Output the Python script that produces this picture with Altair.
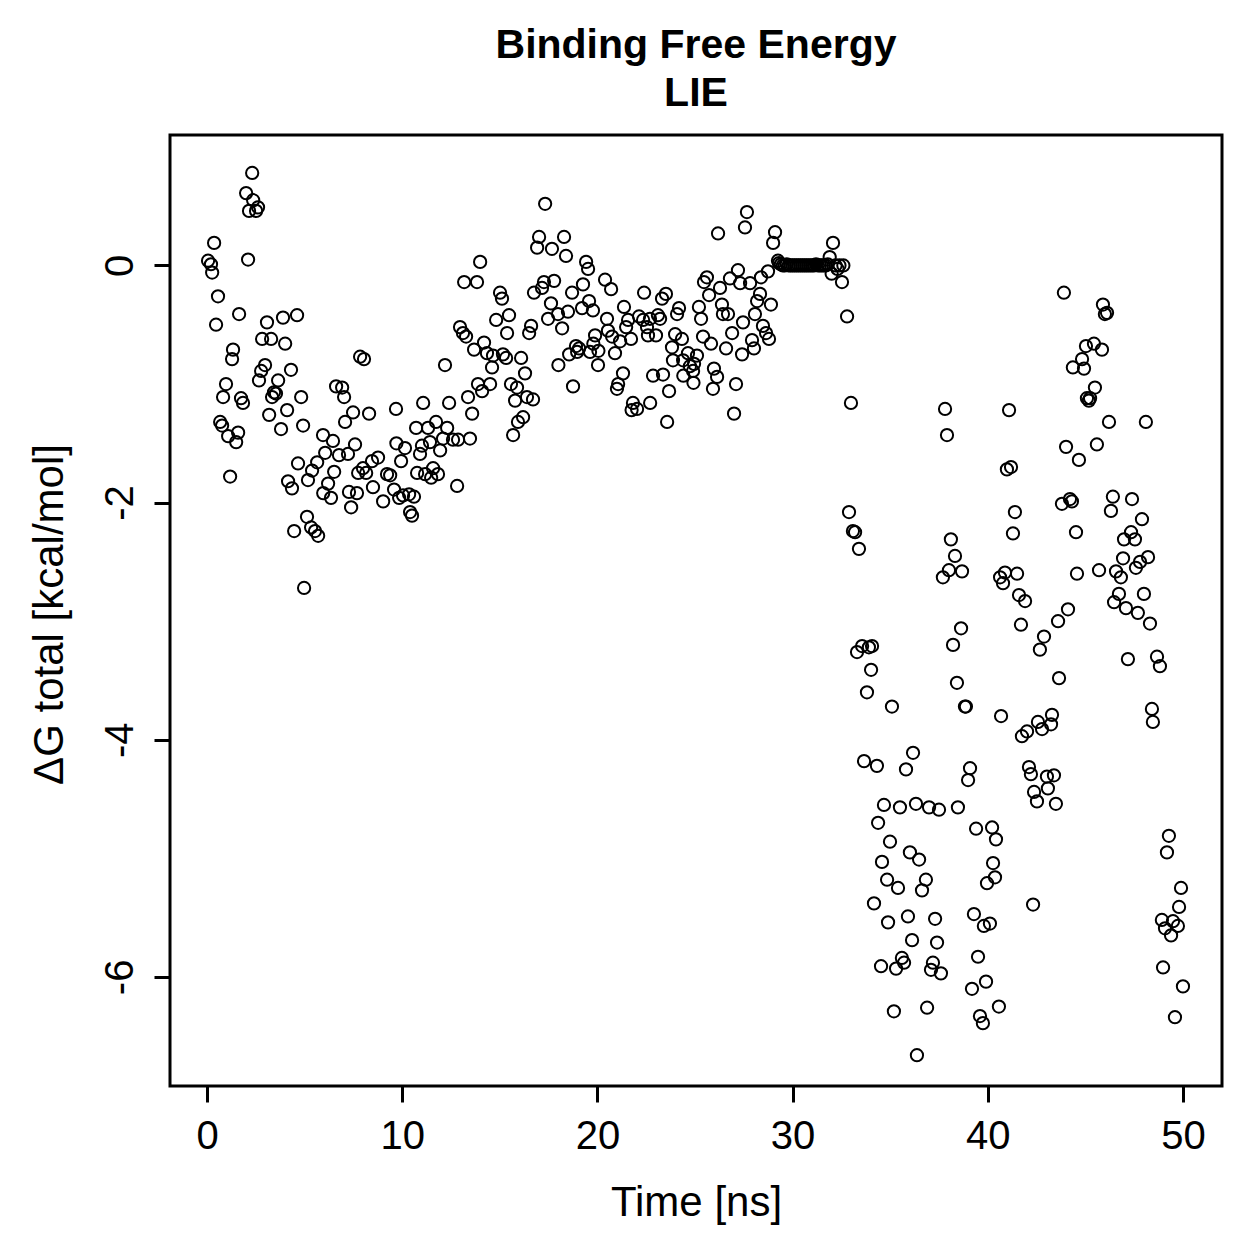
import altair as alt
import pandas as pd

# (time [ns], dG total [kcal/mol]), in segments
seg_0_10 = [
    (0.05, 0.04), (0.20, 0.01), (0.26, -0.06), (0.36, 0.19), (0.46, -0.50), (0.56, -0.26),
    (0.67, -1.32), (0.77, -1.35), (0.82, -1.11), (0.97, -1.00), (1.08, -1.44), (1.18, -1.78),
    (1.28, -0.79), (1.33, -0.71), (1.49, -1.49), (1.59, -1.41), (1.64, -0.41), (1.74, -1.12),
    (1.84, -1.16), (2.00, 0.61), (2.10, 0.05), (2.15, 0.46), (2.31, 0.78), (2.36, 0.55),
    (2.51, 0.46), (2.61, 0.49), (2.66, -0.97), (2.77, -0.89), (2.82, -0.62), (2.97, -0.84),
    (3.07, -0.48), (3.18, -1.26), (3.28, -0.62), (3.33, -1.11), (3.43, -1.07), (3.53, -1.08),
    (3.64, -0.97), (3.79, -1.38), (3.89, -0.44), (4.00, -0.66), (4.10, -1.22), (4.15, -1.82),
    (4.30, -0.88), (4.35, -1.88), (4.46, -2.24), (4.61, -0.42), (4.66, -1.67), (4.82, -1.11),
    (4.92, -1.35), (4.97, -2.72), (5.12, -2.12), (5.17, -1.81), (5.33, -2.21), (5.38, -1.73),
    (5.53, -2.24), (5.64, -1.66), (5.69, -2.28), (5.94, -1.43), (5.95, -1.92), (6.05, -1.58),
    (6.20, -1.84), (6.35, -1.96), (6.45, -1.48), (6.51, -1.74), (6.61, -1.02), (6.76, -1.60),
    (6.92, -1.03), (7.02, -1.11), (7.07, -1.32), (7.22, -1.59), (7.27, -1.91), (7.38, -2.04),
    (7.48, -1.24), (7.58, -1.51), (7.68, -1.92), (7.74, -1.75), (7.84, -0.77), (7.99, -1.71),
    (8.04, -0.79), (8.15, -1.75), (8.30, -1.25), (8.45, -1.65), (8.50, -1.87), (8.76, -1.62),
    (9.02, -1.99), (9.22, -1.76), (9.38, -1.77), (9.58, -1.89), (9.68, -1.21), (9.70, -1.50),
    (9.84, -1.96),
]

seg_10_20 = [
    (9.94, -1.65), (10.04, -1.94), (10.14, -1.54), (10.35, -1.93), (10.40, -2.08), (10.50, -2.11),
    (10.60, -1.95), (10.71, -1.37), (10.76, -1.75), (10.91, -1.59), (11.01, -1.52), (11.07, -1.16),
    (11.17, -1.76), (11.32, -1.37), (11.42, -1.49), (11.48, -1.79), (11.58, -1.71), (11.73, -1.32),
    (11.83, -1.76), (11.94, -1.56), (12.09, -1.46), (12.19, -0.84), (12.30, -1.37), (12.40, -1.16),
    (12.60, -1.47), (12.81, -1.86), (12.86, -1.47), (12.96, -0.52), (13.11, -0.57), (13.17, -0.14),
    (13.27, -0.60), (13.37, -1.11), (13.47, -1.46), (13.58, -1.25), (13.68, -0.71), (13.83, -0.14),
    (13.88, -1.00), (13.99, 0.03), (14.09, -1.06), (14.19, -0.65), (14.34, -0.74), (14.50, -1.00),
    (14.60, -0.86), (14.65, -0.76), (14.81, -0.46), (15.01, -0.23), (15.11, -0.28), (15.16, -0.75),
    (15.32, -0.78), (15.37, -0.57), (15.47, -0.42), (15.57, -1.00), (15.68, -1.43), (15.78, -1.14),
    (15.88, -1.03), (15.93, -1.32), (16.09, -0.78), (16.19, -1.28), (16.29, -0.91), (16.39, -1.11),
    (16.50, -0.57), (16.60, -0.51), (16.70, -1.13), (16.75, -0.23), (16.91, 0.15), (17.01, 0.24),
    (17.16, -0.19), (17.26, -0.14), (17.32, 0.52), (17.47, -0.45), (17.62, -0.32), (17.67, 0.14),
    (17.78, -0.13), (17.98, -0.41), (18.00, -0.84), (18.19, -0.53), (18.29, 0.24), (18.39, 0.08),
    (18.49, -0.39), (18.55, -0.75), (18.70, -0.23), (18.75, -1.02), (18.90, -0.68), (18.96, -0.73),
    (19.06, -0.70), (19.21, -0.36), (19.26, -0.16), (19.42, 0.03), (19.52, -0.03), (19.57, -0.30),
    (19.62, -0.73), (19.77, -0.38), (19.79, -0.66), (19.88, -0.59), (20.03, -0.84), (20.05, -0.72),
]

seg_20_29 = [
    (20.39, -0.12), (20.49, -0.45), (20.54, -0.55), (20.70, -0.20), (20.75, -0.60), (20.90, -0.74),
    (21.00, -1.04), (21.06, -1.00), (21.16, -0.64), (21.31, -0.91), (21.36, -0.35), (21.47, -0.52),
    (21.57, -0.46), (21.72, -0.62), (21.75, -1.22), (21.82, -1.16), (22.03, -1.21), (22.13, -0.43),
    (22.34, -0.46), (22.39, -0.23), (22.54, -0.52), (22.59, -0.59), (22.69, -0.45), (22.70, -1.16),
    (22.85, -0.93), (23.00, -0.59), (23.10, -0.42), (23.21, -0.45), (23.31, -0.28), (23.36, -0.92),
    (23.51, -0.24), (23.57, -1.32), (23.67, -1.06), (23.82, -0.69), (23.87, -0.80), (23.98, -0.58),
    (24.08, -0.41), (24.18, -0.36), (24.33, -0.62), (24.39, -0.80), (24.40, -0.93), (24.64, -0.74),
    (24.74, -0.85), (24.90, -0.89), (24.92, -0.99), (24.95, -0.83), (25.10, -0.76), (25.20, -0.35),
    (25.31, -0.45), (25.41, -0.60), (25.46, -0.14), (25.61, -0.10), (25.72, -0.25), (25.82, -0.66),
    (25.92, -1.04), (25.97, -0.87), (26.13, -0.94), (26.18, 0.27), (26.28, -0.19), (26.38, -0.33),
    (26.43, -0.41), (26.59, -0.70), (26.69, -0.41), (26.79, -0.11), (26.90, -0.57), (27.00, -1.25),
    (27.10, -1.00), (27.20, -0.04), (27.31, -0.15), (27.41, -0.75), (27.46, -0.48), (27.56, 0.32),
    (27.66, 0.45), (27.82, -0.15), (27.92, -0.63), (28.02, -0.70), (28.07, -0.41), (28.18, -0.30),
    (28.33, -0.24), (28.38, -0.10), (28.48, -0.51), (28.64, -0.57), (28.74, -0.05), (28.79, -0.62),
    (28.89, -0.33), (29.00, 0.19), (29.10, 0.28), (29.25, 0.04),
]

seg_plateau = [
    (29.3, 0.02), (29.4, 0.01), (29.5, 0.0), (29.6, 0.0), (29.7, 0.01), (29.8, 0.0),
    (29.9, 0.0), (30.0, 0.0), (30.1, 0.0), (30.2, 0.0), (30.3, 0.0), (30.4, 0.0),
    (30.5, 0.0), (30.6, 0.0), (30.7, 0.0), (30.8, 0.0), (30.9, 0.0), (31.0, 0.0),
    (31.1, 0.0), (31.2, 0.01), (31.3, 0.0), (31.4, 0.0), (31.5, 0.0), (31.6, 0.0),
    (31.7, 0.0), (31.8, 0.01), (31.9, 0.07), (32.0, -0.07), (32.07, 0.19), (32.2, 0.0),
    (32.3, -0.03), (32.4, 0.0), (32.53, -0.14), (32.6, 0.0), (32.79, -0.43), (32.89, -2.08),
    (32.99, -1.16), (33.09, -2.24), (33.20, -2.25), (33.40, -2.39),
]

seg_33_41 = [
    (33.30, -3.26), (33.56, -3.21), (33.66, -4.18), (33.81, -3.60), (33.91, -3.22), (34.02, -3.41),
    (34.07, -3.21), (34.17, -5.38), (34.32, -4.22), (34.38, -4.70), (34.53, -5.91), (34.58, -5.03),
    (34.68, -4.55), (34.84, -5.18), (34.89, -5.54), (34.99, -4.86), (35.09, -3.72), (35.19, -6.29),
    (35.30, -5.93), (35.40, -5.25), (35.50, -4.57), (35.60, -5.84), (35.71, -5.88), (35.81, -4.25),
    (35.91, -5.49), (36.01, -4.95), (36.12, -5.69), (36.17, -4.11), (36.32, -4.54), (36.37, -6.66),
    (36.48, -5.01), (36.63, -5.27), (36.83, -5.18), (36.89, -6.26), (36.99, -4.57), (37.09, -5.94),
    (37.19, -5.88), (37.30, -5.51), (37.40, -5.71), (37.50, -4.59), (37.60, -5.97), (37.70, -2.63),
    (37.81, -1.21), (37.91, -1.43), (38.01, -2.57), (38.11, -2.31), (38.22, -3.20), (38.32, -2.45),
    (38.42, -3.52), (38.47, -4.57), (38.63, -3.06), (38.68, -2.58), (38.83, -3.72), (38.88, -3.72),
    (38.99, -4.34), (39.09, -4.24), (39.19, -6.10), (39.29, -5.47), (39.40, -4.75), (39.50, -5.83),
    (39.60, -6.33), (39.75, -6.39), (39.80, -5.57), (39.91, -6.04), (39.96, -5.21), (40.11, -5.55),
    (40.22, -4.74), (40.27, -5.04), (40.37, -5.16), (40.42, -4.84), (40.57, -6.25), (40.63, -2.63),
    (40.68, -3.80), (40.78, -2.68), (40.88, -2.59), (40.98, -1.72),
]

seg_41_50 = [
    (41.09, -1.22), (41.19, -1.70), (41.29, -2.26), (41.39, -2.08), (41.50, -2.60), (41.60, -2.78),
    (41.70, -3.03), (41.75, -3.97), (41.91, -2.83), (42.01, -3.93), (42.11, -4.23), (42.21, -4.29),
    (42.32, -5.39), (42.37, -4.44), (42.52, -4.52), (42.57, -3.85), (42.67, -3.24), (42.78, -3.91),
    (42.88, -3.13), (43.03, -4.31), (43.08, -4.41), (43.24, -3.87), (43.29, -3.79), (43.39, -4.30),
    (43.49, -4.54), (43.60, -3.00), (43.65, -3.48), (43.80, -2.01), (43.90, -0.23), (44.01, -1.53),
    (44.11, -2.90), (44.21, -1.97), (44.31, -1.99), (44.36, -0.86), (44.52, -2.25), (44.57, -2.60),
    (44.67, -1.64), (44.83, -0.79), (44.93, -0.87), (45.03, -0.68), (45.08, -1.12), (45.18, -1.14),
    (45.24, -1.12), (45.44, -0.66), (45.49, -1.03), (45.59, -1.51), (45.70, -2.57), (45.85, -0.71),
    (45.90, -0.33), (46.00, -0.41), (46.11, -0.40), (46.21, -1.32), (46.31, -2.07), (46.41, -1.95),
    (46.47, -2.84), (46.57, -2.58), (46.72, -2.77), (46.82, -2.63), (46.93, -2.47), (46.98, -2.31),
    (47.08, -2.89), (47.18, -3.32), (47.34, -2.25), (47.39, -1.97), (47.54, -2.31), (47.59, -2.55),
    (47.69, -2.93), (47.80, -2.50), (47.90, -2.14), (48.00, -2.77), (48.10, -1.32), (48.21, -2.46),
    (48.31, -3.02), (48.41, -3.74), (48.46, -3.85), (48.67, -3.30), (48.82, -3.38), (48.92, -5.52),
    (48.98, -5.92), (49.08, -5.59), (49.18, -4.95), (49.28, -4.81), (49.39, -5.65), (49.49, -5.53),
    (49.59, -6.34), (49.74, -5.57), (49.80, -5.41), (49.90, -5.25), (50.00, -6.08),
]

x_ticks = [0, 10, 20, 30, 40, 50]
y_ticks = [-6, -4, -2, 0]

rows = seg_0_10 + seg_10_20 + seg_20_29 + seg_plateau + seg_33_41 + seg_41_50
df = pd.DataFrame(rows, columns=["t", "dg"])

FONT = "Liberation Sans"

chart = (
    alt.Chart(df)
    .mark_point(shape="circle", filled=False, color="black", size=150, strokeWidth=2, opacity=1)
    .encode(
        x=alt.X(
            "t:Q",
            scale=alt.Scale(domain=[-1.9, 52.0], nice=False, zero=False),
            axis=alt.Axis(
                values=x_ticks, title="Time [ns]", labelPadding=14,
                titleX=526, titleY=129, titleBaseline="alphabetic", titleAlign="center",
                labelExpr="'' + datum.value",
            ),
        ),
        y=alt.Y(
            "dg:Q",
            scale=alt.Scale(domain=[-6.92, 1.10], nice=False, zero=False),
            axis=alt.Axis(
                values=y_ticks, title="ΔG total [kcal/mol]", labelAngle=270,
                labelAlign="center", labelBaseline="alphabetic", labelPadding=22,
                titleAngle=270, titleX=-108, titleY=479, titleBaseline="alphabetic",
                titleAlign="center", labelExpr="'' + datum.value",
            ),
        ),
    )
    .properties(
        width=1052,
        height=951,
        autosize=alt.AutoSizeParams(type="none"),
        padding={"left": 170, "top": 135, "right": 37, "bottom": 173},
        background="white",
        title=alt.TitleParams(
            text=["Binding Free Energy", "LIE"], font=FONT, fontSize=41, fontWeight="bold",
            color="black", anchor="middle", lineHeight=48, offset=20,
        ),
    )
    .configure_view(stroke="black", strokeWidth=3)
    .configure_axis(
        grid=False, domain=False, ticks=True, tickColor="black", tickWidth=3, tickSize=16,
        labelFont=FONT, labelFontSize=40, labelColor="black",
        titleFont=FONT, titleFontSize=42, titleFontWeight="normal", titleColor="black",
    )
)

chart.save("out.html", embed_options={"renderer": "svg", "actions": False})
